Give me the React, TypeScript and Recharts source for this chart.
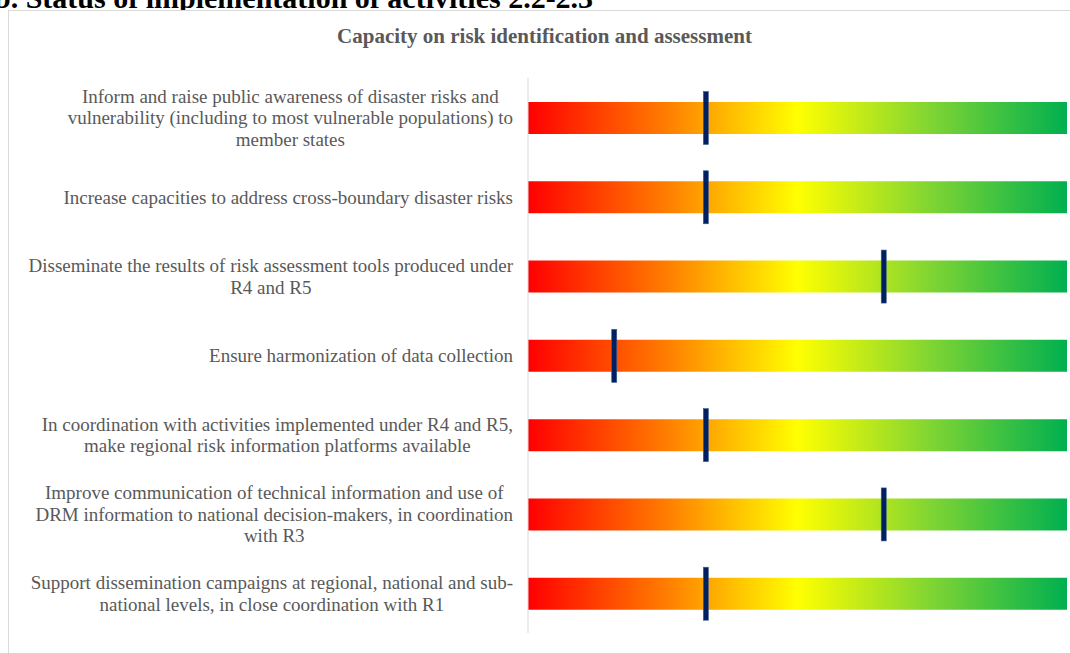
import React from "react";
import { BarChart, Bar, XAxis, YAxis } from "recharts";

// activity labels, wrapped the way the source chart wraps them
const activityLines: string[][] = [
  [
    "Inform and raise public awareness of disaster risks and",
    "vulnerability (including to most vulnerable populations) to",
    "member states",
  ],
  ["Increase capacities to address cross-boundary disaster risks"],
  ["Disseminate the results of risk assessment tools produced under", "R4 and R5"],
  ["Ensure harmonization of data collection"],
  [
    "In coordination with activities implemented under R4 and R5,",
    "make regional risk information platforms available",
  ],
  [
    "Improve communication of technical information and use of",
    "DRM information to national decision-makers, in coordination",
    "with R3",
  ],
  [
    "Support dissemination campaigns at regional, national and sub-",
    "national levels, in close coordination with R1",
  ],
];

// implementation status (0 = not started, 100 = complete)
const statusValues: number[] = [33, 33, 66, 16, 33, 66, 33];

const data = activityLines.map((lines, i) => ({
  activity: lines.join(" "),
  status: statusValues[i],
}));

const LABEL_FONT = 19;
const LINE_H = 21.5;
const labelFont = `${LABEL_FONT}px "Liberation Serif"`;

let ctx: CanvasRenderingContext2D | null = null;
const measure = (s: string) => {
  if (!ctx) {
    ctx = document.createElement("canvas").getContext("2d");
  }
  if (!ctx) return s.length * 8;
  ctx.font = labelFont;
  return ctx.measureText(s).width;
};

const ActivityTick = (props: any) => {
  const { x, y, payload } = props;
  const idx = data.findIndex((d) => d.activity === payload.value);
  const lines = idx >= 0 ? activityLines[idx] : [payload.value];
  const blockW = Math.max(...lines.map(measure));
  const right = x - 7;
  const cx = right - blockW / 2;
  const startY = y - ((lines.length - 1) * LINE_H) / 2;
  return (
    <g>
      {lines.map((ln, i) => (
        <text
          key={i}
          x={cx}
          y={startY + i * LINE_H}
          dy="0.35em"
          textAnchor="middle"
          fill="#595959"
          style={{ fontFamily: '"Liberation Serif", serif', fontSize: LABEL_FONT }}
        >
          {ln}
        </text>
      ))}
    </g>
  );
};

const Marker = (props: any) => {
  const { x, y, width, height } = props;
  if (x == null || width == null) return null;
  return (
    <rect
      x={x + width - 2.5}
      y={y - 10.5}
      width={5}
      height={height + 21}
      fill="#002060"
      stroke="#3c5a8c"
      strokeWidth={0.6}
    />
  );
};

export default function App() {
  return (
    <div
      style={{
        position: "absolute",
        left: 0,
        top: 0,
        width: 1070,
        height: 653,
        overflow: "hidden",
        background: "#fff",
      }}
    >
      <div
        style={{
          position: "absolute",
          left: -6,
          top: -19,
          fontFamily: '"Liberation Serif", serif',
          fontWeight: "bold",
          fontSize: 30,
          lineHeight: "34px",
          color: "#000",
          whiteSpace: "nowrap",
        }}
      >
        b. Status of implementation of activities 2.2-2.3
      </div>
      <div
        style={{
          position: "absolute",
          left: 8,
          top: 10,
          width: 1073,
          height: 700,
          border: "1px solid #d9d9d9",
          boxSizing: "border-box",
          background: "#fff",
        }}
      />
      <div
        style={{
          position: "absolute",
          left: 8,
          width: 1073,
          top: 24,
          textAlign: "center",
          fontFamily: '"Liberation Serif", serif',
          fontWeight: "bold",
          fontSize: 21,
          color: "#595959",
        }}
      >
        Capacity on risk identification and assessment
      </div>
      <div style={{ position: "absolute", left: 0, top: 0 }}>
        <BarChart
          width={1070}
          height={653}
          data={data}
          layout="vertical"
          margin={{ top: 78, right: 3, bottom: 20, left: 0 }}
        >
          <defs>
            <linearGradient id="riskGrad" x1="0" y1="0" x2="1" y2="0">
              <stop offset="0%" stopColor="#FF0000" />
              <stop offset="25%" stopColor="#FF7A00" />
              <stop offset="50%" stopColor="#FFFF00" />
              <stop offset="75%" stopColor="#7ED433" />
              <stop offset="100%" stopColor="#00B050" />
            </linearGradient>
          </defs>
          <XAxis type="number" domain={[0, 100]} hide />
          <YAxis
            type="category"
            dataKey="activity"
            width={528}
            axisLine={{ stroke: "#d9d9d9" }}
            tickLine={false}
            tick={<ActivityTick />}
            interval={0}
          />
          <Bar
            dataKey="status"
            barSize={32}
            background={{ fill: "url(#riskGrad)" }}
            shape={<Marker />}
            isAnimationActive={false}
          />
        </BarChart>
      </div>
    </div>
  );
}
